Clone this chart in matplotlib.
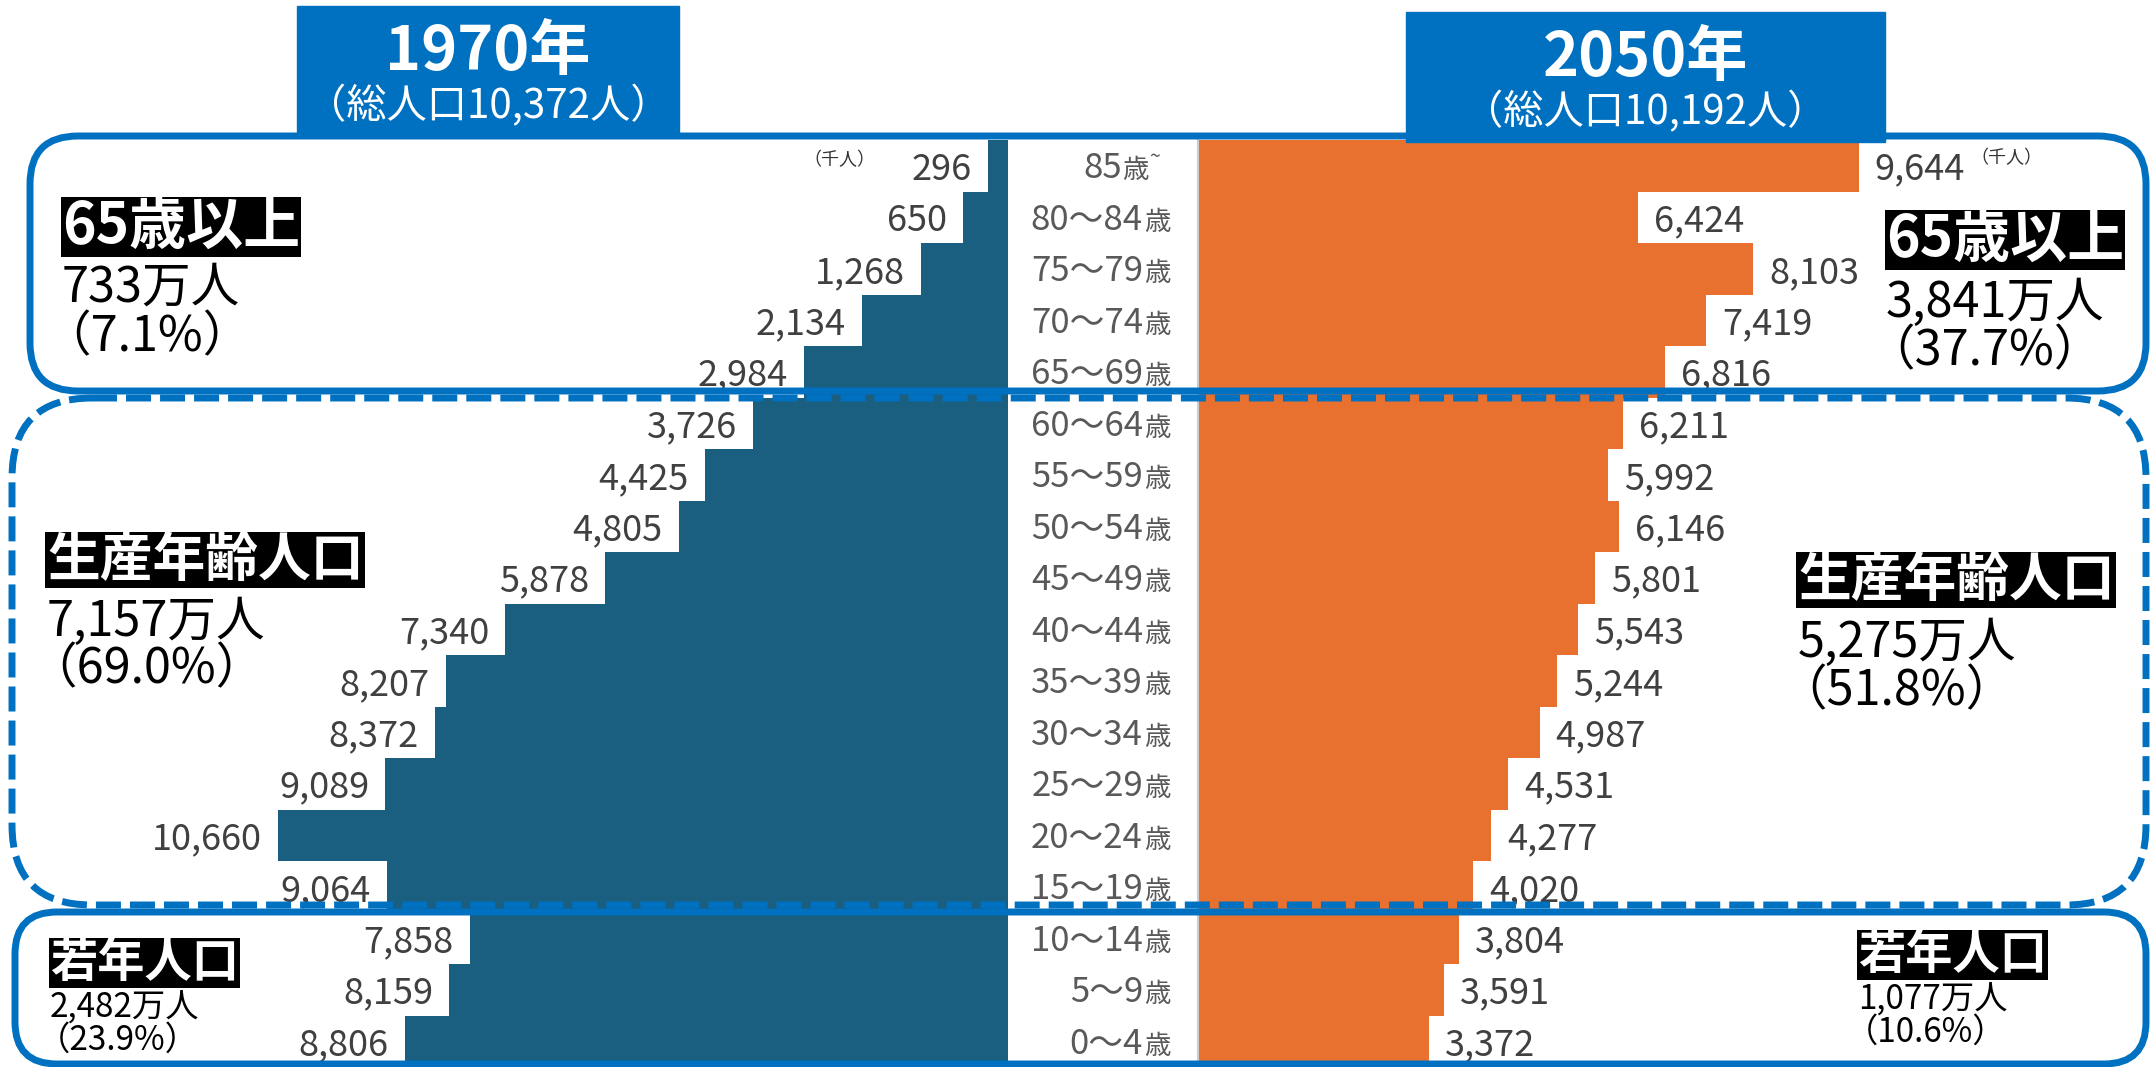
import matplotlib
matplotlib.use("Agg")
import matplotlib.pyplot as plt
from matplotlib.patches import FancyBboxPatch, Rectangle
import numpy as np

plt.rcParams['font.family'] = ['Noto Sans CJK JP', 'DejaVu Sans']

# age groups, bottom to top
ages = ["0～4歳", "5～9歳", "10～14歳", "15～19歳", "20～24歳", "25～29歳",
        "30～34歳", "35～39歳", "40～44歳", "45～49歳", "50～54歳", "55～59歳",
        "60～64歳", "65～69歳", "70～74歳", "75～79歳", "80～84歳", "85歳～"]
# population (thousands)
pop_1970 = [8806, 8159, 7858, 9064, 10660, 9089, 8372, 8207, 7340, 5878,
            4805, 4425, 3726, 2984, 2134, 1268, 650, 296]
pop_2050 = [3372, 3591, 3804, 4020, 4277, 4531, 4987, 5244, 5543, 5801,
            6146, 5992, 6211, 6816, 7419, 8103, 6424, 9644]

titles = ["1970年", "2050年"]
subtitles = ["（総人口10,372人）", "（総人口10,192人）"]
group_names = ["65歳以上", "生産年齢人口", "若年人口"]
groups_1970 = [("733万人", "（7.1%）"), ("7,157万人", "（69.0%）"), ("2,482万人", "（23.9%）")]
groups_2050 = [("3,841万人", "（37.7%）"), ("5,275万人", "（51.8%）"), ("1,077万人", "（10.6%）")]

W, H = 2156, 1067
BLUE = "#0070C0"
DARK = "#1A5F80"
ORANGE = "#E8712F"
GREY = "#404040"

fig = plt.figure(figsize=(W / 100, H / 100), dpi=100)
fig.patch.set_facecolor("white")

scale = 0.0685          # pixels per thousand people
top_px = 140
bars_h = (H - top_px) / H
left_w = 1008
right_x0 = 1198

ax_l = fig.add_axes([0, 0, left_w / W, bars_h])
ax_r = fig.add_axes([right_x0 / W, 0, (W - right_x0) / W, bars_h])

y = np.arange(len(ages))
ax_l.barh(y, pop_1970, height=1.0, color=DARK, linewidth=0)
ax_r.barh(y, pop_2050, height=1.0, color=ORANGE, linewidth=0)
ax_l.set_xlim(left_w / scale, 0)
ax_r.set_xlim(0, (W - right_x0) / scale)
for ax in (ax_l, ax_r):
    ax.set_ylim(-0.5, len(ages) - 0.5)
    ax.axis("off")

for i, v in enumerate(pop_1970):
    ax_l.annotate(f"{v:,}", (v, i), xytext=(-16, -4), textcoords="offset pixels",
                  ha="right", va="center", fontsize=26, color=GREY)
for i, v in enumerate(pop_2050):
    ax_r.annotate(f"{v:,}", (v, i), xytext=(16, -4), textcoords="offset pixels",
                  ha="left", va="center", fontsize=26, color=GREY)

# age labels in the centre column
AGE_C = "#595959"
for i, lab in enumerate(ages):
    head, tail = lab.split("歳")
    if tail:
        ax_r.annotate(head, (0, i), xytext=(-76, -3), textcoords="offset pixels",
                      ha="right", va="center", fontsize=25, color=AGE_C)
        ax_r.annotate("歳", (0, i), xytext=(-76, -5), textcoords="offset pixels",
                      ha="left", va="center", fontsize=19, color=AGE_C)
        ax_r.annotate("~", (0, i), xytext=(-49, 8), textcoords="offset pixels",
                      ha="left", va="center", fontsize=14, color=AGE_C)
    else:
        ax_r.annotate(head, (0, i), xytext=(-55, -3), textcoords="offset pixels",
                      ha="right", va="center", fontsize=25, color=AGE_C)
        ax_r.annotate("歳", (0, i), xytext=(-54, -5), textcoords="offset pixels",
                      ha="left", va="center", fontsize=19, color=AGE_C)

ax_l.annotate("（千人）", (pop_1970[-1], len(ages) - 1), xytext=(-112, 6),
              textcoords="offset pixels", ha="right", va="center", fontsize=13, color="#333333")
ax_r.annotate("（千人）", (pop_2050[-1], len(ages) - 1), xytext=(112, 8),
              textcoords="offset pixels", ha="left", va="center", fontsize=13, color="#333333")

# overlay in pixel coordinates for frames and notes
ov = fig.add_axes([0, 0, 1, 1])
ov.set_xlim(0, W)
ov.set_ylim(H, 0)
ov.axis("off")
ov.patch.set_alpha(0)

ov.plot([1198, 1198], [140, H], color="#cccccc", lw=1.5)

lw = 5
ov.add_patch(FancyBboxPatch((30, 136), 2116, 255, boxstyle="round,pad=0,rounding_size=48",
                            fill=False, ec=BLUE, lw=lw, zorder=3))
ov.add_patch(FancyBboxPatch((12, 398), 2134, 507, boxstyle="round,pad=0,rounding_size=80",
                            fill=False, ec=BLUE, lw=lw, ls=(0, (3.6, 1.3)), zorder=3))
ov.add_patch(FancyBboxPatch((15, 912), 2131, 152, boxstyle="round,pad=0,rounding_size=42",
                            fill=False, ec=BLUE, lw=lw, zorder=3))

# year boxes
for (x0, y0, x1, y1), t, st in zip([(297, 6, 679, 133), (1406, 12, 1885, 142)], titles, subtitles):
    ov.add_patch(Rectangle((x0, y0), x1 - x0, y1 - y0, color=BLUE, zorder=4))
    cx = (x0 + x1) / 2
    ov.text(cx, y0 + 46, t, ha="center", va="center", fontsize=44, fontweight="bold",
            color="white", zorder=5)
    ov.text(cx, y0 + 100, st, ha="center", va="center", fontsize=29, color="white", zorder=5)

# group notes
notes_l = [(62, 227, 288, 338, 41, 35), (47, 560, 622, 670, 38, 35), (50, 963, 1008, 1040, 34, 24)]
notes_r = [(1886, 240, 303, 352, 41, 35), (1798, 580, 643, 692, 38, 35), (1858, 955, 1000, 1032, 34, 24)]
for notes, vals in [(notes_l, groups_1970), (notes_r, groups_2050)]:
    for (x, yt, y1, y2, fs1, fs2), name, (n, p) in zip(notes, group_names, vals):
        ov.text(x, yt, name, ha="left", va="center", fontsize=fs1, fontweight="bold",
                color="white", zorder=5,
                bbox=dict(facecolor="black", edgecolor="none", pad=1))
        ov.text(x, y1, n, ha="left", va="center", fontsize=fs2, color="black", zorder=5)
        ov.text(x - fs2 * 0.55, y2, p, ha="left", va="center", fontsize=fs2, color="black", zorder=5)

fig.savefig("out.png", dpi=100)
